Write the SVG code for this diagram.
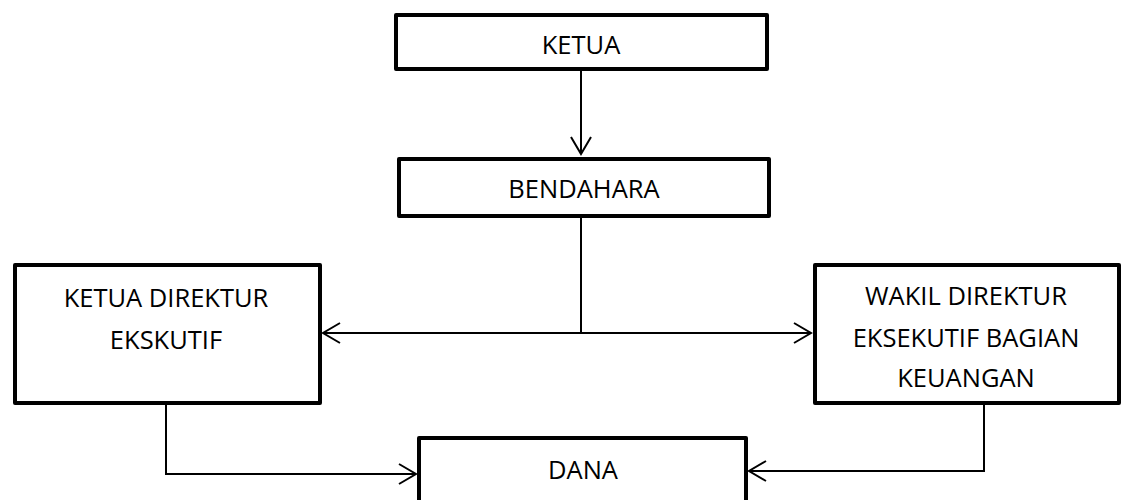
<svg xmlns="http://www.w3.org/2000/svg" width="1123" height="500" viewBox="0 0 1123 500">
<style>
.box{fill:#fff;stroke:#000;stroke-width:4;stroke-linejoin:round}
.lbl{font-family:"Open Sans","Liberation Sans",sans-serif;font-size:25.5px;fill:#000;text-anchor:middle}
.con{fill:none;stroke:#000;stroke-width:2}
</style>
<defs>
<marker id="arr" viewBox="0 0 18 20" refX="17" refY="10" markerWidth="18" markerHeight="20" markerUnits="userSpaceOnUse" orient="auto" overflow="visible">
<path d="M0 0 L17 10 L0 20" fill="none" stroke="#000" stroke-width="2"/>
</marker>
</defs>
<rect width="1123" height="500" fill="#fff"/>
<g id="connectors">
<path class="con" d="M581 71 V154" marker-end="url(#arr)"/>
<path class="con" d="M581 218 V333"/>
<path class="con" d="M581 333 H323" marker-end="url(#arr)"/>
<path class="con" d="M581 333 H811" marker-end="url(#arr)"/>
<path class="con" d="M166 405 V474 H416" marker-end="url(#arr)"/>
<path class="con" d="M984 404 V471 H749" marker-end="url(#arr)"/>
</g>
<g id="ketua">
<rect class="box" x="396" y="15" width="371" height="54"/>
<text class="lbl" x="581" y="54">KETUA</text>
</g>
<g id="bendahara">
<rect class="box" x="399" y="159" width="370" height="57"/>
<text class="lbl" x="584" y="198">BENDAHARA</text>
</g>
<g id="ketua-direktur">
<rect class="box" x="15" y="265" width="305" height="138"/>
<text class="lbl" x="166" y="307">KETUA DIREKTUR</text>
<text class="lbl" x="166" y="349">EKSKUTIF</text>
</g>
<g id="wakil-direktur">
<rect class="box" x="815" y="265" width="304" height="138"/>
<text class="lbl" x="966" y="305">WAKIL DIREKTUR</text>
<text class="lbl" x="966" y="347">EKSEKUTIF BAGIAN</text>
<text class="lbl" x="966" y="387">KEUANGAN</text>
</g>
<g id="dana">
<rect class="box" x="419" y="438" width="327" height="80"/>
<text class="lbl" x="583" y="479">DANA</text>
</g>
</svg>
